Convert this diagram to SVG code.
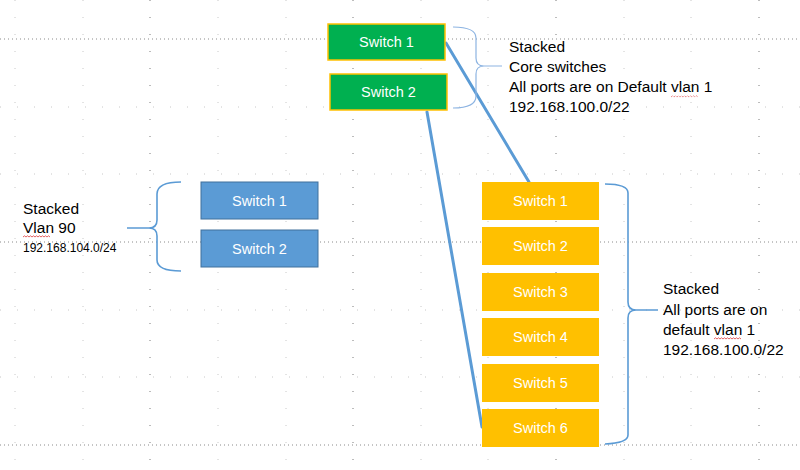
<svg xmlns="http://www.w3.org/2000/svg" width="800" height="470" viewBox="0 0 800 470">
<style>
  .minor { stroke: #c8c8c8; stroke-width: 1; stroke-dasharray: 1 16; fill: none; }
  .majorv { stroke: #7a7a7a; stroke-width: 1; stroke-dasharray: 1 16; fill: none; }
  .majorh { stroke: #8a8a8a; stroke-width: 1; stroke-dasharray: 1 3; fill: none; }
  .sw text, text.lbl { font-family: "Liberation Sans", Arial, sans-serif; }
  .sw text { fill: #ffffff; font-size: 14.5px; text-anchor: middle; }
  .green rect { fill: #00B050; stroke: #FFC000; stroke-width: 1.5; }
  .blue rect { fill: #5B9BD5; stroke: #41719C; stroke-width: 1; }
  .orange rect { fill: #FFC000; }
  text.lbl { fill: #000000; font-size: 15.5px; }
  text.small { font-size: 12px; }
  .link { stroke: #5B9BD5; stroke-width: 3; fill: none; stroke-linecap: round; }
  .brace { stroke: #5B9BD5; stroke-width: 1.6; fill: none; }
  .brace.thin { stroke: #8DB4E2; stroke-width: 1.2; }
  .squig { stroke: #E05050; stroke-width: 0.9; fill: none; }
</style>

<g id="grid">
  <path class="minor" d="M15,0V470 M83,0V470 M218,0V470 M286,0V470 M421,0V470 M488,0V470 M624,0V470 M691,0V470"/>
  <path class="majorv" d="M150,0V470 M353,0V470 M556,0V470 M759,0V470"/>
  <path class="minor" d="M0,107H800 M0,174H800 M0,310H800 M0,377H800"/>
  <path class="majorh" d="M0,39H800 M0,242H800 M0,445H800"/>
</g>

<g id="connectors">
  <line class="link" x1="446" y1="43" x2="529" y2="182"/>
  <line class="link" x1="427" y1="112" x2="482" y2="427"/>
  <path class="brace thin" d="M453,27 Q476,27 476,38 L476,58 Q476,66 484,66 L502,66 M484,66 Q476,66 476,74 L476,96 Q476,108 453,108"/>
  <path class="brace" d="M181,182 Q157,182 157,194 L157,220 Q157,228 149,228 L127,228 M149,228 Q157,228 157,236 L157,260 Q157,271 181,271"/>
  <path class="brace" d="M605,184 Q628,184 628,193 L628,302 Q628,310 636,310 L658,310 M636,310 Q628,310 628,318 L628,435 Q628,443 605,444"/>
</g>

<g id="core-switch-1" class="sw green">
  <rect x="328" y="24" width="117" height="36"/>
  <text x="386.5" y="47">Switch 1</text>
</g>
<g id="core-switch-2" class="sw green">
  <rect x="330" y="74" width="117" height="36"/>
  <text x="388.5" y="97">Switch 2</text>
</g>

<g id="vlan90-switch-1" class="sw blue">
  <rect x="201" y="182" width="117" height="37"/>
  <text x="259.5" y="205.5">Switch 1</text>
</g>
<g id="vlan90-switch-2" class="sw blue">
  <rect x="201" y="230" width="117" height="37"/>
  <text x="259.5" y="253.5">Switch 2</text>
</g>

<g id="stack-switch-1" class="sw orange">
  <rect x="482" y="182" width="117" height="38"/>
  <text x="540.5" y="206">Switch 1</text>
</g>
<g id="stack-switch-2" class="sw orange">
  <rect x="482" y="227" width="117" height="38"/>
  <text x="540.5" y="251">Switch 2</text>
</g>
<g id="stack-switch-3" class="sw orange">
  <rect x="482" y="273" width="117" height="38"/>
  <text x="540.5" y="297">Switch 3</text>
</g>
<g id="stack-switch-4" class="sw orange">
  <rect x="482" y="318" width="117" height="38"/>
  <text x="540.5" y="342">Switch 4</text>
</g>
<g id="stack-switch-5" class="sw orange">
  <rect x="482" y="364" width="117" height="38"/>
  <text x="540.5" y="388">Switch 5</text>
</g>
<g id="stack-switch-6" class="sw orange">
  <rect x="482" y="409" width="117" height="38"/>
  <text x="540.5" y="433">Switch 6</text>
</g>

<g id="label-core">
  <text class="lbl" x="509" y="52">Stacked</text>
  <text class="lbl" x="509" y="72">Core switches</text>
  <text class="lbl" x="509" y="92">All ports are on Default vlan 1</text>
  <text class="lbl" x="509" y="112">192.168.100.0/22</text>
  <path class="squig" stroke-dasharray="1 1" d="M671,97 l1.5,-1.2 l1.5,1.2 l1.5,-1.2 l1.5,1.2 l1.5,-1.2 l1.5,1.2 l1.5,-1.2 l1.5,1.2 l1.5,-1.2 l1.5,1.2 l1.5,-1.2 l1.5,1.2 l1.5,-1.2 l1.5,1.2 l1.5,-1.2 l1.5,1.2 l1.5,-1.2 l1.5,1.2"/>
</g>

<g id="label-vlan90">
  <text class="lbl" x="23" y="214">Stacked</text>
  <text class="lbl" x="23" y="233">Vlan 90</text>
  <text class="lbl small" x="23" y="252">192.168.104.0/24</text>
  <path class="squig" d="M23,237 l1.5,-1.2 l1.5,1.2 l1.5,-1.2 l1.5,1.2 l1.5,-1.2 l1.5,1.2 l1.5,-1.2 l1.5,1.2 l1.5,-1.2 l1.5,1.2 l1.5,-1.2 l1.5,1.2 l1.5,-1.2 l1.5,1.2 l1.5,-1.2 l1.5,1.2 l1.5,-1.2 l1.5,1.2"/>
</g>

<g id="label-stack">
  <text class="lbl" x="663" y="294">Stacked</text>
  <text class="lbl" x="663" y="315">All ports are on</text>
  <text class="lbl" x="663" y="335">default vlan 1</text>
  <text class="lbl" x="663" y="355">192.168.100.0/22</text>
  <path class="squig" d="M714,339 l1.5,-1.2 l1.5,1.2 l1.5,-1.2 l1.5,1.2 l1.5,-1.2 l1.5,1.2 l1.5,-1.2 l1.5,1.2 l1.5,-1.2 l1.5,1.2 l1.5,-1.2 l1.5,1.2 l1.5,-1.2 l1.5,1.2 l1.5,-1.2 l1.5,1.2 l1.5,-1.2 l1.5,1.2"/>
</g>
</svg>
